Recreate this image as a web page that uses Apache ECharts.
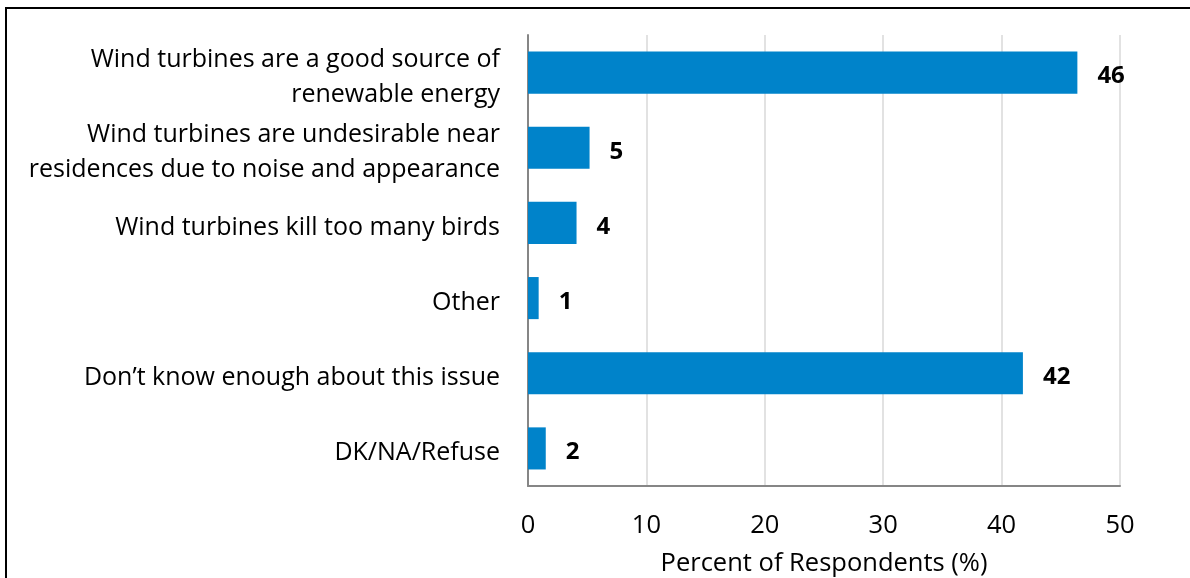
<!DOCTYPE html>
<html>
<head>
<meta charset="utf-8">
<script src="https://cdn.jsdelivr.net/npm/echarts@6/dist/echarts.min.js"></script>
<style>
  html, body { margin: 0; padding: 0; background: #fff; }
  #wrap { position: relative; width: 1190px; height: 578px; overflow: hidden; }
  #frame { position: absolute; left: 5px; top: 7px; right: -10px; bottom: -10px; border-top: 2px solid #000; border-left: 2px solid #000; }
  #chart { position: absolute; left: 0; top: 0; width: 1190px; height: 578px; }
</style>
</head>
<body>
<div id="wrap">
  <div id="frame"></div>
  <div id="chart"></div>
</div>
<script>
// categories top to bottom
const categories = [
  'Wind turbines are a good source of\nrenewable energy',
  'Wind turbines are undesirable near\nresidences due to noise and appearance',
  'Wind turbines kill too many birds',
  'Other',
  'Don\u2019t know enough about this issue',
  'DK/NA/Refuse'
]
const values = [46.4, 5.2, 4.1, 0.9, 41.8, 1.5]
const xTicks = [0, 10, 20, 30, 40, 50]

const chart = echarts.init(document.getElementById('chart'))
const font = '"Open Sans", sans-serif'

// small empty line on top pushes the label text a few px down, like the original
const catLabel = v => '{s| }\n' + v.split('\n').map(l => '{t|' + l + '}').join('\n')

const option = {
  animation: false,
  grid: { left: 528, right: 70, top: 35, bottom: 92, containLabel: false, outerBoundsMode: 'none' },
  xAxis: {
    type: 'value',
    min: xTicks[0],
    max: xTicks[xTicks.length - 1],
    interval: 10,
    name: 'Percent of Respondents (%)',
    nameLocation: 'middle',
    nameGap: 65,
    nameTextStyle: { fontFamily: font, fontSize: 25.5, color: '#000' },
    axisLine: { show: true, lineStyle: { color: '#868686', width: 2 } },
    axisTick: { show: false },
    axisLabel: { fontFamily: font, fontSize: 25.5, color: '#000', margin: 27 },
    splitLine: { show: true, lineStyle: { color: '#d9d9d9', width: 1.5 } }
  },
  yAxis: {
    type: 'category',
    inverse: true,
    data: categories,
    axisLine: { show: true, lineStyle: { color: '#868686', width: 2 } },
    axisTick: { show: false },
    axisLabel: {
      interval: 0,
      margin: 28,
      align: 'right',
      formatter: catLabel,
      rich: {
        s: { fontSize: 2, lineHeight: 9 },
        t: { fontFamily: font, fontSize: 25, color: '#000', lineHeight: 35 }
      }
    }
  },
  series: [{
    type: 'bar',
    data: values,
    barCategoryGap: '44%',
    itemStyle: { color: '#0083ca' },
    label: {
      show: true,
      position: 'right',
      distance: 20,
      offset: [0, 4],
      fontFamily: font,
      fontSize: 24,
      fontWeight: 'bold',
      color: '#000',
      formatter: p => Math.round(p.value)
    }
  }]
}

chart.setOption(option)
</script>
</body>
</html>
